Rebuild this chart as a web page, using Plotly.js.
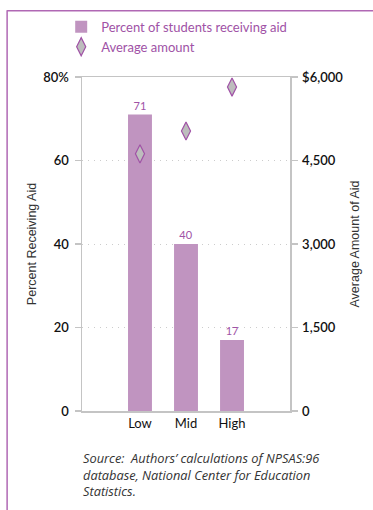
<!DOCTYPE html>
<html>
<head>
<meta charset="utf-8">
<script src="https://cdn.plot.ly/plotly-3.0.1.min.js"></script>
<style>
html,body{margin:0;padding:0;background:#fff;}
#chart{width:373px;height:510px;}
</style>
</head>
<body>
<div id="chart"></div>
<script>
const categories = ['Low', 'Mid', 'High'];
const percentReceiving = [71, 40, 17];
const averageAmount = [4620, 5030, 5820];
const leftTickVals = [0, 20, 40, 60, 80];
const leftTickText = ['0', '20', '40', '60', '80%'];
const rightTickVals = [0, 1500, 3000, 4500, 6000];
const rightTickText = ['0', '1,500', '3,000', '4,500', '$6,000'];

const purple = '#a052a6';
const barColor = '#c094c0';
const tickFont = {family: 'Lato, "Open Sans", sans-serif', size: 13, color: '#111', weight: 600};

const traces = [
  {
    type: 'bar',
    name: 'Percent of students receiving aid',
    x: categories,
    y: percentReceiving,
    width: 0.52,
    marker: {color: barColor},
    text: percentReceiving.map(String),
    textposition: 'outside',
    textfont: {family: 'Lato, sans-serif', size: 11, color: purple},
    cliponaxis: false,
    hoverinfo: 'skip'
  },
  {
    type: 'scatter',
    mode: 'markers',
    name: 'Average amount',
    x: categories,
    y: averageAmount,
    yaxis: 'y2',
    marker: {symbol: 'diamond-tall', size: 13, color: '#bdbdbd', line: {color: purple, width: 1.2}},
    hoverinfo: 'skip'
  }
];

const layout = {
  width: 373, height: 510,
  margin: {l: 82, r: 83, t: 73, b: 99, pad: 0},
  paper_bgcolor: '#fff',
  plot_bgcolor: '#fff',
  showlegend: true,
  legend: {
    x: -0.1, xanchor: 'left', y: 1.195, yanchor: 'top',
    font: {family: 'Lato, sans-serif', size: 13, color: purple},
    tracegroupgap: 0, itemwidth: 30, bgcolor: 'rgba(0,0,0,0)'
  },
  xaxis: {
    type: 'category',
    range: [-1.26, 3.26],
    showline: true, linecolor: '#c4c4c4', linewidth: 1.5, mirror: true,
    ticks: '', showgrid: false,
    tickfont: {family: 'Lato, sans-serif', size: 13, color: '#111'},
    fixedrange: true
  },
  yaxis: {
    range: [0, 80],
    tickvals: leftTickVals, ticktext: leftTickText,
    showline: true, linecolor: '#c4c4c4', linewidth: 1.5,
    ticks: 'outside', ticklen: 6, tickcolor: '#c4c4c4', tickwidth: 1.5,
    ticklabelstandoff: 3,
    showgrid: true, gridcolor: '#cccccc', griddash: '1px,5px', gridwidth: 1,
    zeroline: false,
    tickfont: tickFont,
    title: {text: 'Percent Receiving Aid', font: {family: '"Liberation Sans", Arial, sans-serif', size: 12.5, color: '#333'}, standoff: 4},
    fixedrange: true
  },
  yaxis2: {
    range: [0, 6000],
    overlaying: 'y', side: 'right',
    tickvals: rightTickVals, ticktext: rightTickText,
    showline: true, linecolor: '#c4c4c4', linewidth: 1.5,
    ticks: 'outside', ticklen: 6, tickcolor: '#c4c4c4', tickwidth: 1.5,
    ticklabelstandoff: 2,
    showgrid: false, zeroline: false,
    tickfont: tickFont,
    title: {text: 'Average Amount of Aid', font: {family: '"Liberation Sans", Arial, sans-serif', size: 12.5, color: '#333'}, standoff: 8},
    fixedrange: true
  },
  shapes: [
    {type: 'line', xref: 'paper', yref: 'paper', x0: -0.36, x1: -0.36, y0: 1.2, y1: -0.3, line: {color: '#b068b4', width: 1.5}},
    {type: 'line', xref: 'paper', yref: 'paper', x0: -0.36, x1: 1.45, y0: 1.198, y1: 1.198, line: {color: '#b068b4', width: 1.5}}
  ],
  annotations: [
    {
      xref: 'paper', yref: 'paper', x: -0.005, y: -0.108, xanchor: 'left', yanchor: 'top', align: 'left',
      showarrow: false,
      text: '<i>Source:  Authors\u2019 calculations of NPSAS:96<br>database, National Center for Education<br>Statistics.</i>',
      font: {family: '"Open Sans", Lato, sans-serif', size: 12.8, color: '#333'}
    }
  ]
};

Plotly.newPlot('chart', traces, layout, {displayModeBar: false, staticPlot: true});
</script>
</body>
</html>
